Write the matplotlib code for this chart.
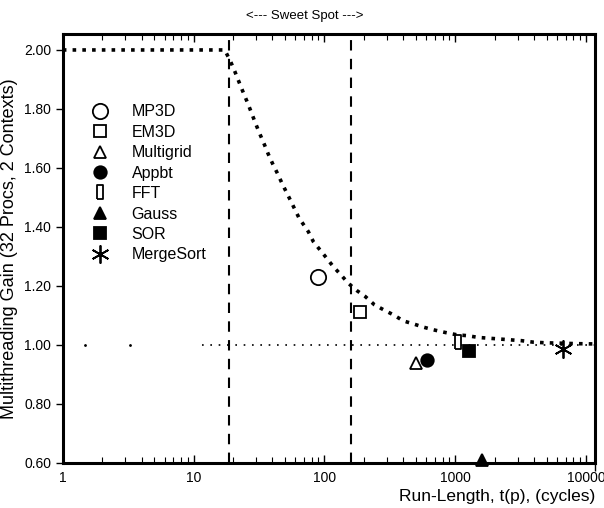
import numpy as np
import matplotlib.pyplot as plt
from matplotlib.ticker import FixedLocator, FuncFormatter, LogLocator, NullFormatter

plt.rcParams['font.family'] = ['Liberation Sans', 'DejaVu Sans']

# benchmark points (run-length, gain)
names = ['MP3D', 'EM3D', 'Multigrid', 'Appbt', 'FFT', 'Gauss', 'SOR', 'MergeSort']
run_len = [90, 187, 500, 610, 1050, 1600, 1270, 6700]
gain = [1.23, 1.11, 0.94, 0.95, 1.01, 0.61, 0.98, 0.985]

# model curve
curve_t = [1, 17.3, 19.2, 20.7, 22.3, 24.0, 25.9, 27.8, 29.8, 32.1, 34.7, 37.2,
           40.2, 43.9, 47.6, 55, 64, 75.3, 82.3, 92.5, 104, 117, 134, 152, 177,
           205, 241, 283, 336, 402, 479, 571, 681, 837, 1029, 1241, 1508, 2144,
           3230, 3963, 4870, 8510, 11700]
curve_g = [2.0, 2.0, 1.96, 1.926, 1.89, 1.855, 1.82, 1.785, 1.75, 1.715, 1.68,
           1.647, 1.614, 1.58, 1.546, 1.49, 1.43, 1.384, 1.35, 1.322, 1.294,
           1.265, 1.237, 1.209, 1.184, 1.164, 1.136, 1.119, 1.102, 1.081, 1.071,
           1.06, 1.051, 1.042, 1.034, 1.031, 1.025, 1.02, 1.014, 1.009, 1.007,
           1.004, 1.003]

sweet_lo, sweet_hi = 18.5, 160
y_ticks = [0.6, 0.8, 1.0, 1.2, 1.4, 1.6, 1.8, 2.0]
x_ticks = [1, 10, 100, 1000, 10000]

fig = plt.figure(figsize=(6.04, 5.08), dpi=100)
ax = fig.add_axes([0.104, 0.089, 0.881, 0.844])

ax.plot(curve_t, curve_g, color='black', lw=2.6, ls=(0, (1.0, 1.7)))
ax.axvline(sweet_lo, color='black', lw=1.5, ls=(0, (5, 4)))
ax.axvline(sweet_hi, color='black', lw=1.5, ls=(0, (5, 4)))
ax.plot([11.6, 11700], [1.0, 1.0], color='black', lw=1.2, ls=(0, (1, 4)))
ax.plot([1.47, 3.26], [1.0, 1.0], color='black', ls='none', marker='.', ms=2)

fft_box = [(-0.45, -1), (0.45, -1), (0.45, 1), (-0.45, 1), (-0.45, -1)]
styles = [
    dict(marker='o', ms=11, mfc='white'),
    dict(marker='s', ms=9, mfc='white'),
    dict(marker='^', ms=9, mfc='white'),
    dict(marker='o', ms=9, mfc='black'),
    dict(marker=fft_box, ms=10, mfc='white'),
    dict(marker='^', ms=8, mfc='black'),
    dict(marker='s', ms=9, mfc='black'),
    dict(marker=(6, 2, 0), ms=13, mfc='black'),
]
for n, t, g, st in zip(names, run_len, gain, styles):
    ax.plot([t], [g], ls='none', mec='black', mew=1.3, label=n, clip_on=False, **st)

ax.set_xscale('log')
ax.set_xlim(1, 11700)
ax.set_ylim(0.6, 2.054)
ax.xaxis.set_major_locator(FixedLocator(x_ticks))
ax.xaxis.set_major_formatter(FuncFormatter(lambda v, p: '%d' % v))
ax.xaxis.set_minor_locator(LogLocator(base=10, subs=np.arange(2, 10)))
ax.xaxis.set_minor_formatter(NullFormatter())
ax.yaxis.set_major_locator(FixedLocator(y_ticks))
ax.yaxis.set_major_formatter(FuncFormatter(lambda v, p: '%.2f' % v))

for s in ax.spines.values():
    s.set_linewidth(2.2)
ax.tick_params(axis='x', which='both', direction='in', top=True, labelsize=10, pad=6)
ax.tick_params(axis='x', which='major', length=6, width=1)
ax.tick_params(axis='x', which='minor', length=4, width=0.8)
ax.tick_params(axis='y', which='major', direction='out', length=5, width=1, labelsize=10)
ax.tick_params(axis='y', right=True)
for t in ax.yaxis.get_major_ticks():
    t.tick2line.set_marker(3)  # inward on right side
    t.tick2line.set_markersize(6)

ax.set_ylabel('Multithreading Gain (32 Procs, 2 Contexts)', fontsize=13, labelpad=4)
ax.set_xlabel('Run-Length, t(p), (cycles)', fontsize=12.5, loc='right', labelpad=3)
fig.text(0.505, 0.968, '<--- Sweet Spot --->', ha='center', va='center', fontsize=9.5)

ax.legend(loc='upper left', bbox_to_anchor=(0.0545, 0.836), frameon=False, fontsize=11.5,
          handletextpad=1.5, labelspacing=0.34, borderaxespad=0, borderpad=0,
          handlelength=1.0)

fig.savefig('out.png', dpi=100)
